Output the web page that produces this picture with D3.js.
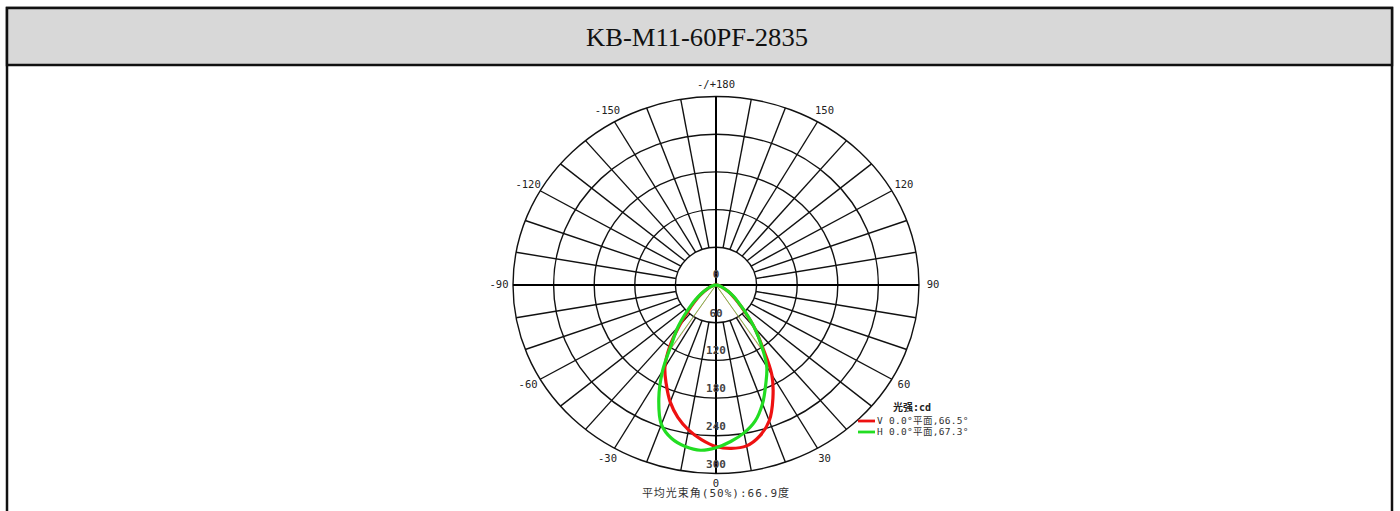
<!DOCTYPE html>
<html>
<head>
<meta charset="utf-8">
<title>KB-M11-60PF-2835</title>
<script src="https://cdn.jsdelivr.net/npm/d3@7"></script>
<style>
  body { margin: 0; background: #fff; }
  .mono { font-family: "DejaVu Sans Mono", "Noto Sans CJK SC", monospace; }
</style>
</head>
<body>
<svg id="chart"></svg>
<script>
// --- data ---
var title = "KB-M11-60PF-2835";
var gammas  = [-90,-85,-80,-75,-70,-65,-60,-55,-50,-45,-40,-35,-30,-25,-20,-15,-10,-5,0,5,10,15,20,25,30,35,40,45,50,55,60,65,70,75,80,85,90];
var vValues = [0,2,4,6,9,13,20,29,41,58,84,119,151,174,198,218,234,247,257,261,260,249,230,199,165,119,88,60,42,30,21,13,9,6,4,2,0];
var hValues = [0,2,4,6,9,14,22,32,45,63,88,114,158,200,236,253,261,264,259,250,239,224,201,174,150,117,88,62,43,32,22,14,9,6,4,2,0];
var series = [
  { name: "V", plane: "0.0°平面", beam: 66.5, values: vValues, color: "#ee1111" },
  { name: "H", plane: "0.0°平面", beam: 67.3, values: hValues, color: "#22dd22" }
];
var ringTicks = [60, 120, 180, 240, 300];
var angleTicks  = [0, 30, 60, 90, 120, 150, 180, -150, -120, -90, -60, -30];
var angleLabels = ["0", "30", "60", "90", "120", "150", "-/+180", "-150", "-120", "-90", "-60", "-30"];
var avgBeam = "平均光束角(50%):66.9度";

// --- layout ---
var W = 1400, H = 511;
var cx = 716, cy = 285;
var svg = d3.select("#chart").attr("width", W).attr("height", H);

// frame + header
svg.append("rect").attr("x", 7).attr("y", 8).attr("width", 1385).attr("height", 520)
  .attr("fill", "#fff").attr("stroke", "#111").attr("stroke-width", 2.5);
svg.append("rect").attr("x", 7).attr("y", 8).attr("width", 1385).attr("height", 57)
  .attr("fill", "#d8d8d8").attr("stroke", "#111").attr("stroke-width", 2.5);
svg.append("text").attr("x", 697).attr("y", 46).attr("text-anchor", "middle")
  .attr("font-family", "Liberation Serif, Times New Roman, serif").attr("font-size", 25)
  .attr("textLength", 222).attr("lengthAdjust", "spacingAndGlyphs")
  .attr("fill", "#111").text(title);

// polar scales (the original is slightly stretched horizontally)
var rx = d3.scaleLinear().domain([0, 300]).range([0, 203]);
var ry = d3.scaleLinear().domain([0, 300]).range([0, 188.5]);
function px(a, r) { return cx + rx(r) * Math.sin(a * Math.PI / 180); }
function py(a, r) { return cy + ry(r) * Math.cos(a * Math.PI / 180); }

var g = svg.append("g");

// rings
g.selectAll("ellipse.ring").data(ringTicks).enter().append("ellipse")
  .attr("class", "ring").attr("cx", cx).attr("cy", cy)
  .attr("rx", function(d) { return rx(d); }).attr("ry", function(d) { return ry(d); })
  .attr("fill", "none").attr("stroke", "#111").attr("stroke-width", 1.4);

// spokes every 10 degrees, from the first ring outward
var spokes = d3.range(0, 360, 10).filter(function(a) { return a % 90 !== 0; });
g.selectAll("line.spoke").data(spokes).enter().append("line")
  .attr("x1", function(a) { return px(a, 60); }).attr("y1", function(a) { return py(a, 60); })
  .attr("x2", function(a) { return px(a, 300); }).attr("y2", function(a) { return py(a, 300); })
  .attr("stroke", "#111").attr("stroke-width", 1.4);

// main axes
g.append("line").attr("x1", px(-90, 300)).attr("y1", cy).attr("x2", px(90, 300)).attr("y2", cy)
  .attr("stroke", "#000").attr("stroke-width", 2);
g.append("line").attr("x1", cx).attr("y1", py(180, 300)).attr("x2", cx).attr("y2", py(0, 300))
  .attr("stroke", "#000").attr("stroke-width", 2);

// angle labels
g.selectAll("text.ang").data(angleTicks).enter().append("text")
  .attr("class", "mono")
  .attr("x", function(a) { return cx + (rx(300) + 14) * Math.sin(a * Math.PI / 180); })
  .attr("y", function(a) { return cy + (ry(300) + (a === 0 ? 10 : 12)) * Math.cos(a * Math.PI / 180); })
  .attr("text-anchor", "middle").attr("dominant-baseline", "middle")
  .attr("font-size", 10.5).attr("fill", "#222")
  .text(function(d, i) { return angleLabels[i]; });

// radial labels along the downward axis
g.selectAll("text.rad").data([0].concat(ringTicks)).enter().append("text")
  .attr("class", "mono")
  .attr("x", cx).attr("y", function(d) { return cy + ry(d) - (d === 0 ? 10 : 9); })
  .attr("text-anchor", "middle").attr("dominant-baseline", "middle")
  .attr("font-size", 11).attr("font-weight", "bold").attr("fill", "#444")
  .text(function(d) { return d; });

// beam angle markers (thin lines to the 50% points)
series.forEach(function(s) {
  var half = d3.max(s.values) / 2;
  [-s.beam / 2, s.beam / 2].forEach(function(a) {
    g.append("line").attr("x1", cx).attr("y1", cy)
      .attr("x2", px(a, half)).attr("y2", py(a, half))
      .attr("stroke", s.color).attr("stroke-width", 0.8).attr("opacity", 0.7);
  });
});

// intensity curves
var line = d3.line()
  .x(function(d, i) { return px(gammas[i], d); })
  .y(function(d, i) { return py(gammas[i], d); })
  .curve(d3.curveCatmullRom);
series.forEach(function(s) {
  g.append("path").attr("d", line(s.values))
    .attr("fill", "none").attr("stroke", s.color).attr("stroke-width", 3.2)
    .attr("stroke-linejoin", "round");
});

// legend
var lg = svg.append("g");
lg.append("text").attr("class", "mono").attr("x", 912).attr("y", 408)
  .attr("text-anchor", "middle").attr("dominant-baseline", "middle")
  .attr("font-size", 10).attr("font-weight", "bold").attr("fill", "#222").text("光强:cd");
series.forEach(function(s, i) {
  var y = 421 + i * 11;
  lg.append("line").attr("x1", 858).attr("x2", 875).attr("y1", y).attr("y2", y)
    .attr("stroke", s.color).attr("stroke-width", 2.8);
  lg.append("text").attr("class", "mono").attr("x", 877).attr("y", y)
    .attr("dominant-baseline", "middle").attr("font-size", 9.5).attr("fill", "#333")
    .attr("letter-spacing", 0.3)
    .text(s.name + " " + s.plane + "," + s.beam.toFixed(1) + "°");
});

// average beam angle caption
svg.append("text").attr("class", "mono").attr("x", cx).attr("y", 494)
  .attr("text-anchor", "middle").attr("dominant-baseline", "middle")
  .attr("font-size", 11).attr("letter-spacing", 1).attr("fill", "#333").text(avgBeam);
</script>
</body>
</html>
